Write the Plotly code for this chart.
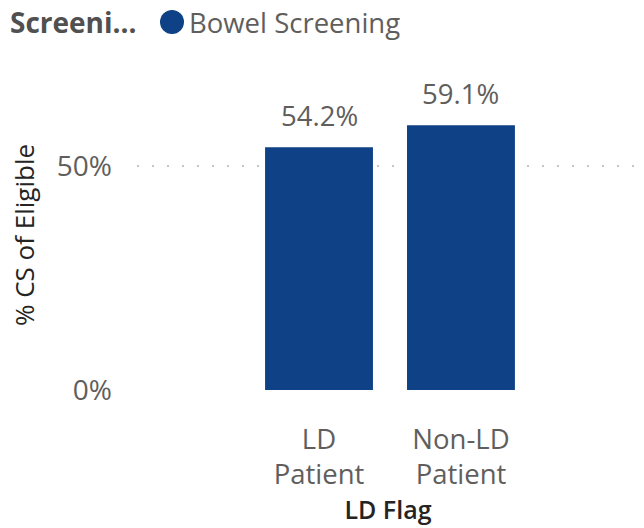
import plotly.graph_objects as go

# Screening uptake by learning-disability flag
categories = ["LD<br>Patient", "Non-LD<br>Patient"]
values = [54.2, 59.1]
series_name = "Bowel Screening"
legend_title = "Screeni..."
y_tick_vals = [0, 50]
y_tick_text = ["0%", "50%"]

bar_color = "#0E4185"
grey = "#605E5C"
dark = "#252423"
font_family = "Open Sans, Noto Sans, DejaVu Sans, sans-serif"

W, H = 644, 528
L, R, T, B = 137, 5, 80, 138


def px_x(px):
    """Convert a pixel column to paper x."""
    return (px - L) / (W - L - R)


def px_y(py):
    """Convert a pixel row (from top) to paper y."""
    return (H - B - py) / (H - T - B)


fig = go.Figure()

fig.add_trace(go.Bar(
    x=[0, 1],
    y=values,
    width=0.76,
    marker=dict(color=bar_color, line=dict(width=0)),
    showlegend=False,
    hoverinfo="skip",
))

# value labels above each bar
for i, v in enumerate(values):
    fig.add_annotation(
        x=i, y=v, xref="x", yref="y",
        text=f"{v:.1f}%",
        showarrow=False,
        yanchor="bottom",
        yshift=11,
        font=dict(size=27.5, color=grey),
    )

# legend: bold title, filled circle, series name
fig.add_annotation(
    x=px_x(8), y=px_y(22), xref="paper", yref="paper",
    text="<b>" + legend_title + "</b>",
    showarrow=False, xanchor="left", yanchor="middle",
    font=dict(size=28, color="#505050"),
)
fig.add_shape(
    type="circle", xref="paper", yref="paper",
    x0=px_x(160), x1=px_x(184), y0=px_y(34), y1=px_y(10),
    fillcolor=bar_color, line=dict(width=0),
)
fig.add_annotation(
    x=px_x(187), y=px_y(22), xref="paper", yref="paper",
    text=series_name,
    showarrow=False, xanchor="left", yanchor="middle",
    font=dict(size=27.5, color=grey),
)

fig.update_layout(
    width=W,
    height=H,
    margin=dict(l=L, r=R, t=T, b=B),
    paper_bgcolor="white",
    plot_bgcolor="white",
    font=dict(family=font_family, color=grey, size=28),
    showlegend=False,
    bargap=0.24,
    xaxis=dict(
        range=[-1.282, 2.254],
        tickvals=[0, 1],
        ticktext=categories,
        showgrid=False,
        zeroline=False,
        showline=False,
        ticks="",
        ticklabelstandoff=30,
        tickfont=dict(size=27.5, color=grey),
        title=dict(text="LD Flag", font=dict(size=25, color=dark, weight=600), standoff=2),
        automargin=False,
        fixedrange=True,
    ),
    yaxis=dict(
        range=[0, 69.2],
        tickvals=y_tick_vals,
        ticktext=y_tick_text,
        showgrid=True,
        gridcolor="#C8C6C4",
        gridwidth=1.5,
        griddash="2px,13px",
        zeroline=False,
        showline=False,
        ticks="",
        ticklabelstandoff=24,
        tickfont=dict(size=28, color=grey),
        title=dict(text="% CS of Eligible", font=dict(size=26, color=dark), standoff=14),
        automargin=False,
        fixedrange=True,
    ),
)

fig.write_html("out.html")
